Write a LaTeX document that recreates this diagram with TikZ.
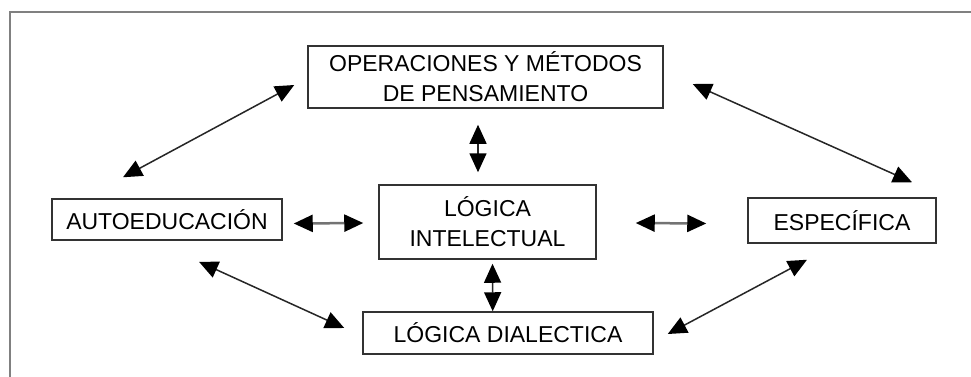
\documentclass[tikz,border=0pt]{standalone}
\usepackage{fontspec}
\setmainfont{Liberation Sans}
\usetikzlibrary{arrows.meta,calc}
\begin{document}
\begin{tikzpicture}[x=1pt,y=-1pt,
  box/.style={draw=black!80, line width=1.5pt, fill=white, inner sep=0pt, align=center, font=\fontsize{23}{30}\selectfont},
  tipx/.tip={Triangle[length=19pt,width=17pt,color=black]},
  link/.style={tipx-tipx, line width=1.5pt, draw=black!85},
  hlink/.style={link, line width=2.5pt, draw=black!55}]
\useasboundingbox (0,0) rectangle (971,376);
\clip (0,0) rectangle (971,376);
\fill[white] (0,0) rectangle (971,376);
\draw[gray, line width=2pt] (980,12) -- (10,12) -- (10,390);
\node[box, minimum width=355, minimum height=62] (ops) at (485.5,77) {OPERACIONES Y MÉTODOS\\DE PENSAMIENTO};
\node[box, minimum width=217, minimum height=74] (intel) at (487.5,222) {LÓGICA\\INTELECTUAL};
\node[box, minimum width=230, minimum height=41] (auto) at (167,219.5) {AUTOEDUCACIÓN};
\node[box, minimum width=188, minimum height=45] (esp) at (842,220.5) {ESPECÍFICA};
\node[box, minimum width=290, minimum height=42] (dial) at (508,333) {LÓGICA DIALECTICA};
\draw[link] ($(ops.south)+(-7.5,16)$) -- ($(intel.north)+(-9.5,-12)$);
\draw[link] ($(intel.south)+(5,4)$) -- ($(dial.north)+(-15.3,0)$);
\draw[hlink] ($(auto.east)+(11,4)$) -- ($(intel.west)+(-15,1)$);
\draw[hlink] ($(intel.east)+(39,1)$) -- ($(esp.west)+(-41,3)$);
\draw[link] ($(ops.west)+(-13,8)$) -- ($(auto.north)+(-44,-21)$);
\draw[link] ($(ops.east)+(29,7)$) -- ($(esp.north)+(70,-15)$);
\draw[link] ($(auto.south)+(32,21)$) -- ($(dial.west)+(-18,-5)$);
\draw[link] ($(esp.south)+(-35,16)$) -- ($(dial.east)+(14,1)$);
\end{tikzpicture}
\end{document}
